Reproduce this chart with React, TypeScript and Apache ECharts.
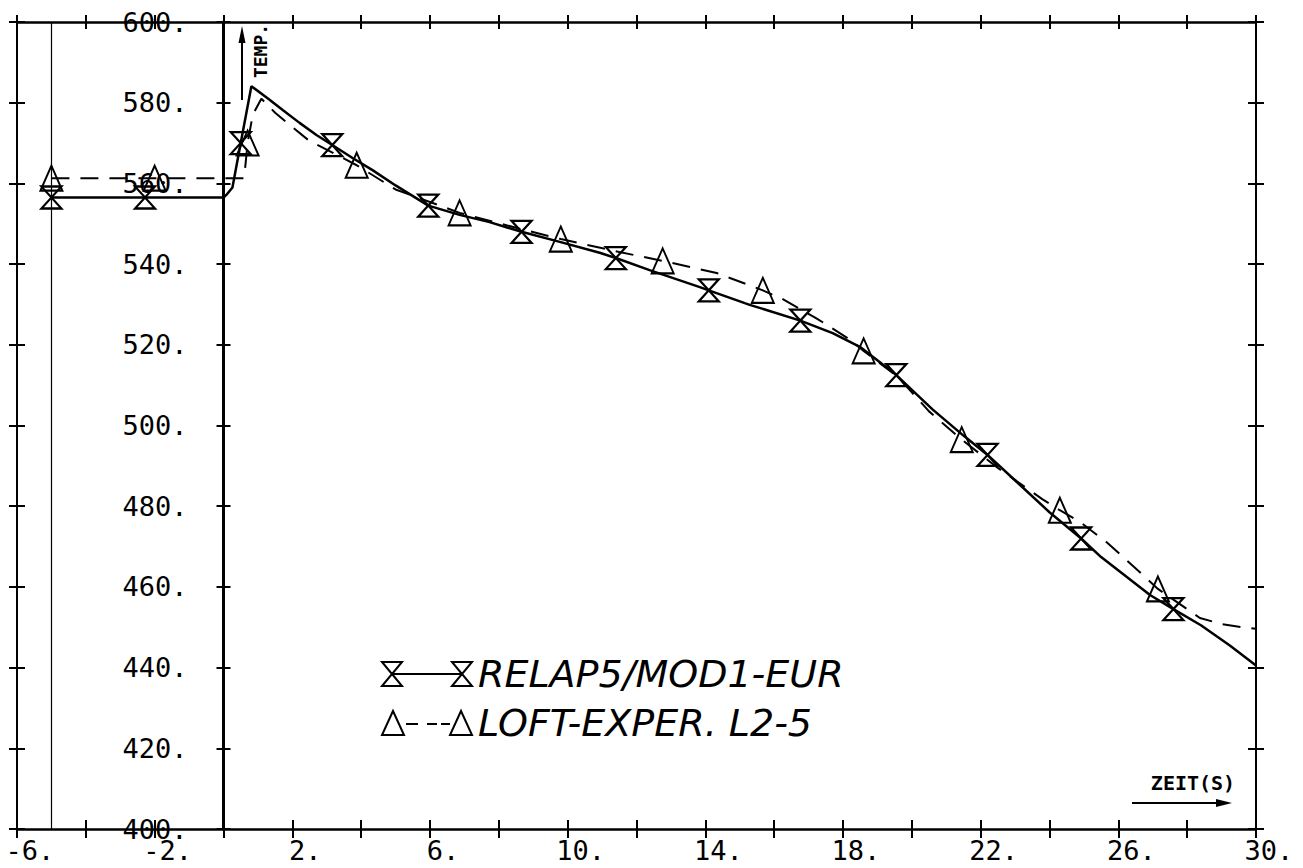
import React, { useEffect, useRef } from 'react';
import * as echarts from 'echarts';

// Tick labels
const xLabelValues = [-6, -2, 2, 6, 10, 14, 18, 22, 26, 30];
const yLabelValues = [400, 420, 440, 460, 480, 500, 520, 540, 560, 580, 600];

// RELAP5/MOD1-EUR (solid line)
const relapX = [-5, -2.28, 0, 0.1, 0.26, 0.5, 0.81, 1.3, 1.72, 2.21, 2.7, 3.16, 3.75, 4.33, 5.0, 5.95, 6.86, 7.73, 8.66, 9.77, 10.93, 11.4, 12.38, 13.84, 14.1, 15.29, 16.76, 17.7, 18.49, 19.55, 20.6, 21.5, 22.2, 23.05, 24.0, 24.92, 25.5, 26.92, 27.6, 28.4, 29.24, 30];
const relapY = [556.5, 556.5, 556.5, 557.3, 559, 570, 584.1, 581, 578.2, 575, 572, 569.5, 566.3, 563.3, 559.5, 554.5, 552.2, 550.4, 548, 545.5, 542.8, 541.5, 538.5, 534.3, 533.5, 529.9, 526, 522.9, 519.5, 512.5, 504, 497.5, 492.7, 486, 478.5, 472, 467.4, 458, 454.5, 450.5, 445.5, 440.5];
const relapMarkerX = [-5, -2.28, 0.5, 3.16, 5.95, 8.66, 11.4, 14.1, 16.76, 19.55, 22.2, 24.92, 27.6];

// LOFT-EXPER. L2-5 (dashed line)
const loftX = [-5, -2, 0.6, 0.7, 0.85, 1.1, 1.5, 1.92, 2.5, 3.2, 3.87, 5.0, 6.86, 8.5, 9.8, 11.5, 12.76, 14.33, 15.67, 16.25, 17.24, 18.2, 18.6, 19.6, 20.5, 21.45, 22.5, 23.8, 24.3, 24.9, 25.67, 26.45, 27.15, 28.37, 29.0, 29.6, 30];
const loftY = [561.3, 561.3, 561.3, 570, 577, 581, 577.5, 574.5, 570.5, 567.5, 564.5, 558.5, 552.7, 549, 546.2, 543, 540.8, 537.8, 533.5, 531.3, 526.5, 521.3, 518.5, 512, 503.5, 496.5, 489.5, 481.7, 479, 476, 471, 465, 459.5, 452.3, 450.8, 450, 449.6];
const loftMarkerX = [-5, -2, 0.7, 3.87, 6.86, 9.8, 12.76, 15.67, 18.6, 21.45, 24.3, 27.15];

const seriesNames = ['RELAP5/MOD1-EUR', 'LOFT-EXPER. L2-5'];

const BLACK = '#000';
const MONO = '"DejaVu Sans Mono", monospace';

// grid geometry (pixels)
const GRID_LEFT = 17;
const GRID_RIGHT = 47;
const CHART_W = 1303;
const X_MIN = -6;
const X_MAX = 30;
// offset that moves the labelled y axis onto x = 0
const ZERO_OFFSET = -((0 - X_MIN) / (X_MAX - X_MIN)) * (CHART_W - GRID_LEFT - GRID_RIGHT);

const hourglass = (x0: number) => `M${x0},0 L${x0 + 20},0 L${x0 + 10},11 L${x0 + 20},22 L${x0},22 L${x0 + 10},11 Z`;
const triangle = (x0: number) => `M${x0 + 11},0 L${x0 + 22},25 L${x0},25 Z`;

const HOURGLASS_SYMBOL = 'path://' + hourglass(0);
const TRIANGLE_SYMBOL = 'path://' + triangle(0);

const LEGEND_ICON_1 = 'path://M0,0 L20,0 L10,12 L20,24 L0,24 L10,12 Z M10,12 L80,12 M70,0 L90,0 L80,12 L90,24 L70,24 L80,12 Z';
const LEGEND_ICON_2 = 'path://M11,0 L22,24 L0,24 Z M24,13 L36,13 M45,13 L55,13 M59,13 L68,13 M79,0 L90,24 L68,24 Z';

function buildData(xs: number[], ys: number[], markers: number[]) {
  return xs.map((x, i) => {
    const isMarker = markers.includes(x);
    return isMarker ? { value: [x, ys[i]] } : { value: [x, ys[i]], symbol: 'none' };
  });
}

export default function App() {
  const ref = useRef<HTMLDivElement>(null);

  useEffect(() => {
    document.body.style.margin = '0';
    const chart = echarts.init(ref.current!, null, { renderer: 'svg' });

    const xBase = { type: 'value', min: X_MIN, max: X_MAX, interval: 2, splitLine: { show: false } };
    const yBase = { type: 'value', min: 400, max: 600, interval: 20, splitLine: { show: false } };
    const tickStyle = { color: BLACK, width: 2 };

    const option: any = {
      animation: false,
      backgroundColor: '#fff',
      grid: { left: GRID_LEFT, right: GRID_RIGHT, top: 22, bottom: 39, containLabel: false, outerBoundsMode: 'none' },
      xAxis: [
        {
          ...xBase, position: 'bottom',
          axisLine: { show: true, onZero: false, lineStyle: { color: BLACK, width: 2.5 } },
          axisTick: { show: true, inside: false, length: 9, lineStyle: tickStyle },
          axisLabel: {
            show: true,
            formatter: (v: number) => (xLabelValues.includes(v) ? `${v}.` : ''),
            color: BLACK, fontFamily: MONO, fontSize: 27, margin: 8, padding: [0, 0, 0, 26],
          },
        },
        {
          ...xBase, position: 'bottom',
          axisLine: { show: false, onZero: false },
          axisTick: { show: true, inside: true, length: 9, lineStyle: tickStyle },
          axisLabel: { show: false },
        },
        {
          ...xBase, position: 'top',
          axisLine: { show: true, onZero: false, lineStyle: { color: BLACK, width: 2.5 } },
          axisTick: { show: true, inside: false, length: 7, lineStyle: tickStyle },
          axisLabel: { show: false },
        },
        {
          ...xBase, position: 'top',
          axisLine: { show: false, onZero: false },
          axisTick: { show: true, inside: true, length: 7, lineStyle: tickStyle },
          axisLabel: { show: false },
        },
      ],
      yAxis: [
        {
          ...yBase, position: 'left', offset: ZERO_OFFSET,
          axisLine: { show: true, onZero: false, lineStyle: { color: BLACK, width: 3 } },
          axisTick: { show: true, inside: false, length: 7, lineStyle: tickStyle },
          axisLabel: {
            show: true,
            formatter: (v: number) => (yLabelValues.includes(v) ? `${v}.` : ''),
            color: BLACK, fontFamily: MONO, fontSize: 27, margin: 36,
          },
        },
        {
          ...yBase, position: 'left', offset: ZERO_OFFSET,
          axisLine: { show: false, onZero: false },
          axisTick: { show: true, inside: true, length: 7, lineStyle: tickStyle },
          axisLabel: { show: false },
        },
        {
          ...yBase, position: 'left',
          axisLine: { show: true, onZero: false, lineStyle: { color: BLACK, width: 2 } },
          axisTick: { show: true, inside: false, length: 8, lineStyle: tickStyle },
          axisLabel: { show: false },
        },
        {
          ...yBase, position: 'left',
          axisLine: { show: false, onZero: false },
          axisTick: { show: true, inside: true, length: 8, lineStyle: tickStyle },
          axisLabel: { show: false },
        },
        {
          ...yBase, position: 'right',
          axisLine: { show: true, onZero: false, lineStyle: { color: BLACK, width: 2 } },
          axisTick: { show: true, inside: false, length: 8, lineStyle: tickStyle },
          axisLabel: { show: false },
        },
        {
          ...yBase, position: 'right',
          axisLine: { show: false, onZero: false },
          axisTick: { show: true, inside: true, length: 8, lineStyle: tickStyle },
          axisLabel: { show: false },
        },
      ],
      legend: {
        orient: 'vertical',
        left: 376,
        top: 650,
        itemGap: 11,
        itemWidth: 90,
        itemHeight: 24,
        selectedMode: false,
        data: [
          { name: seriesNames[0], icon: LEGEND_ICON_1 },
          { name: seriesNames[1], icon: LEGEND_ICON_2 },
        ],
        itemStyle: { color: 'transparent', borderColor: BLACK, borderWidth: 2 },
        textStyle: { fontFamily: '"DejaVu Sans", sans-serif', fontStyle: 'italic', fontWeight: 200, fontSize: 38, color: BLACK, padding: [0, 0, 0, 1] },
      },
      series: [
        {
          name: seriesNames[0],
          type: 'line',
          xAxisIndex: 0,
          yAxisIndex: 0,
          data: buildData(relapX, relapY, relapMarkerX),
          symbol: HOURGLASS_SYMBOL,
          symbolSize: [20, 22],
          showSymbol: true,
          lineStyle: { color: BLACK, width: 2.5, type: 'solid' },
          itemStyle: { color: 'transparent', borderColor: BLACK, borderWidth: 2.2 },
          z: 3,
          markLine: {
            silent: true,
            symbol: 'none',
            label: { show: false },
            lineStyle: { color: BLACK, width: 1.2, type: 'solid' },
            data: [{ xAxis: -5 }],
          },
        },
        {
          name: seriesNames[1],
          type: 'line',
          xAxisIndex: 0,
          yAxisIndex: 0,
          data: buildData(loftX, loftY, loftMarkerX),
          symbol: TRIANGLE_SYMBOL,
          symbolSize: [22, 25],
          showSymbol: true,
          lineStyle: { color: BLACK, width: 2, type: [18, 11] },
          itemStyle: { color: 'transparent', borderColor: BLACK, borderWidth: 2 },
          z: 2,
        },
      ],
      graphic: [
        {
          type: 'text', x: 260, y: 51, rotation: Math.PI / 2,
          style: { text: 'TEMP.', font: `bold 18px ${MONO}`, fill: BLACK, align: 'center', verticalAlign: 'middle' },
        },
        { type: 'line', shape: { x1: 242, y1: 100, x2: 242, y2: 40 }, style: { stroke: BLACK, lineWidth: 2 } },
        { type: 'polygon', shape: { points: [[242, 26], [238.5, 43], [245.5, 43]] }, style: { fill: BLACK } },
        {
          type: 'text', x: 1193, y: 783,
          style: { text: 'ZEIT(S)', font: `bold 20px ${MONO}`, fill: BLACK, align: 'center', verticalAlign: 'middle' },
        },
        { type: 'line', shape: { x1: 1132, y1: 803, x2: 1218, y2: 803 }, style: { stroke: BLACK, lineWidth: 2 } },
        { type: 'polygon', shape: { points: [[1232, 803], [1216, 799], [1216, 807]] }, style: { fill: BLACK } },
      ],
    };

    chart.setOption(option);
    return () => chart.dispose();
  }, []);

  return <div ref={ref} style={{ width: CHART_W, height: 868 }} />;
}
